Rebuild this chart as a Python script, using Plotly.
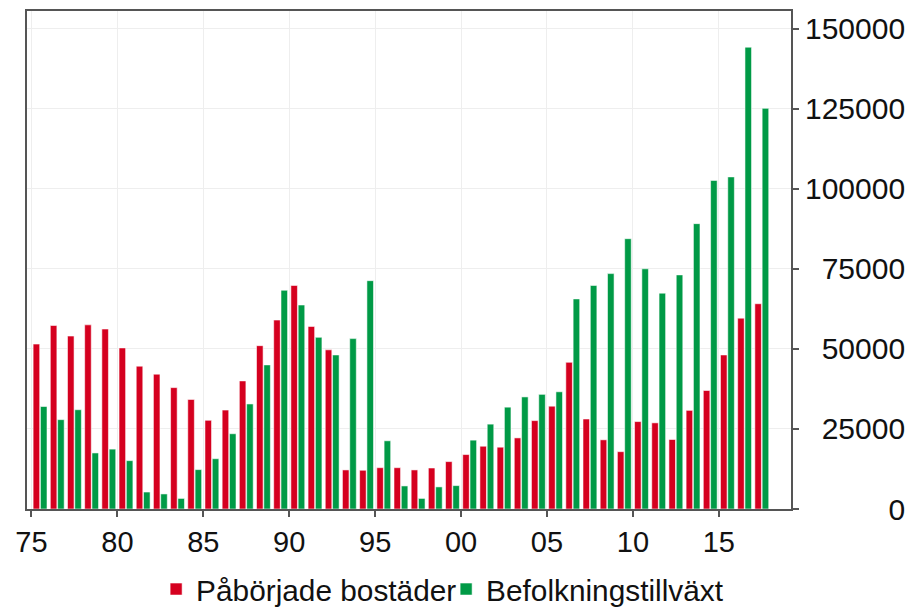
import plotly.graph_objects as go

years = list(range(1975, 2018))

pabörjade = [51500, 57300, 54000, 57500, 56200, 50300, 44600, 42100, 37900, 34200,
             27700, 30900, 40000, 51000, 59000, 69800, 57000, 49700, 12200, 12100,
             12900, 12900, 12200, 12800, 14800, 17000, 19600, 19300, 22200, 27600,
             32100, 45800, 28100, 21600, 17900, 27300, 26900, 21700, 30800, 37000,
             48100, 59600, 64100]

befolkning = [32000, 27900, 31000, 17500, 18700, 15100, 5300, 4700, 3300, 12300,
              15700, 23500, 32800, 45000, 68300, 63700, 53600, 48100, 53200, 71300,
              21300, 7200, 3300, 6900, 7300, 21500, 26500, 31800, 35000, 35800,
              36600, 65600, 69800, 73500, 84400, 75000, 67400, 73100, 89100, 102600,
              103700, 144200, 125100]

x_tickvals = [1975, 1980, 1985, 1990, 1995, 2000, 2005, 2010, 2015]
x_ticktext = ["75", "80", "85", "90", "95", "00", "05", "10", "15"]
y_tickvals = [0, 25000, 50000, 75000, 100000, 125000, 150000]
y_ticktext = ["0", "25000", "50000", "75000", "100000", "125000", "150000"]

RED = "#D5001F"
GREEN = "#009A46"
FONT = "Liberation Sans, Arial, sans-serif"

xpos = [y + 0.5 for y in years]

fig = go.Figure()
fig.add_trace(go.Bar(
    x=xpos, y=pabörjade, name="Påbörjade bostäder",
    marker=dict(color=RED, line=dict(color="rgba(255,255,255,0.55)", width=1)),
))
fig.add_trace(go.Bar(
    x=xpos, y=befolkning, name="Befolkningstillväxt",
    marker=dict(color=GREEN, line=dict(color="rgba(255,255,255,0.55)", width=1)),
))

pad_len = max(len(s) for s in y_ticktext)
y_labels = ["\u2007" * (pad_len - len(s)) + s for s in y_ticktext]

fig.update_layout(
    width=909, height=601,
    margin=dict(l=19, r=126, t=3, b=100, autoexpand=False),
    paper_bgcolor="white", plot_bgcolor="white",
    barmode="group", bargap=0.15, bargroupgap=0.1,
    font=dict(family=FONT, size=29, color="#111111"),
    showlegend=True,
    legend=dict(orientation="h", x=0.169, xanchor="left", y=-0.161, yanchor="middle",
                font=dict(family=FONT, size=29.8, color="#111111"),
                itemwidth=30, entrywidth=245, tracegroupgap=0, bgcolor="rgba(0,0,0,0)"),
    xaxis=dict(
        range=[1974.74, 2019.2], tickmode="array", tickvals=x_tickvals, ticktext=x_ticktext,
        showgrid=True, gridcolor="#EEEEEE", gridwidth=1,
        showline=True, linecolor="#555555", linewidth=2, mirror=True,
        ticks="outside", ticklen=6, tickcolor="#555555", tickwidth=1.5,
        zeroline=False, tickfont=dict(size=29), automargin=False,
    ),
    yaxis=dict(
        side="right", range=[0, 155500], tickmode="array", tickvals=y_tickvals, ticktext=y_labels,
        showgrid=True, gridcolor="#EEEEEE", gridwidth=1,
        showline=True, linecolor="#555555", linewidth=2, mirror=True,
        ticks="outside", ticklen=6, tickcolor="#555555", tickwidth=1.5,
        zeroline=False, tickfont=dict(size=30), automargin=False,
    ),
)

fig.write_html("out.html")
